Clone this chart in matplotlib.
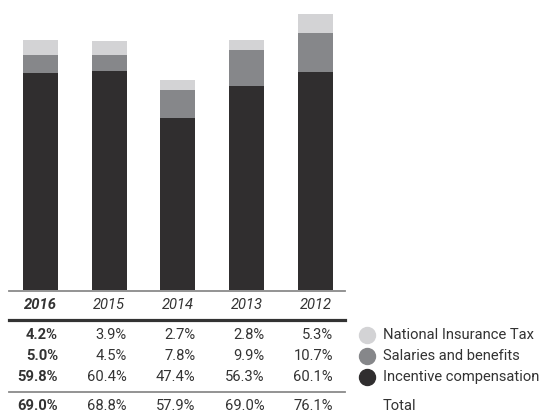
import matplotlib
matplotlib.use("Agg")
import matplotlib.pyplot as plt
from matplotlib.lines import Line2D
from matplotlib.transforms import blended_transform_factory

years = ["2016", "2015", "2014", "2013", "2012"]
national_insurance = [4.2, 3.9, 2.7, 2.8, 5.3]
salaries = [5.0, 4.5, 7.8, 9.9, 10.7]
incentive = [59.8, 60.4, 47.4, 56.3, 60.1]
totals = [69.0, 68.8, 57.9, 69.0, 76.1]
legend_labels = ["National Insurance Tax", "Salaries and benefits",
                 "Incentive compensation", "Total"]

c_dark = "#302e2f"
c_mid = "#86878a"
c_light = "#d3d3d5"
c_text = "#333333"

W, H = 546, 415
fig = plt.figure(figsize=(W / 100, H / 100), dpi=100)
plt.rcParams["font.family"] = ["Roboto", "DejaVu Sans"]


def fy(py):
    # pixel from top -> figure fraction
    return 1 - py / H


def fx(px):
    return px / W


ax = fig.add_axes([fx(9), fy(290), fx(345) - fx(9), fy(0) - fy(290)])
x = list(range(len(years)))
bw = 0.51
ax.bar(x, incentive, bw, color=c_dark)
ax.bar(x, salaries, bw, bottom=incentive, color=c_mid)
bottom3 = [a + b for a, b in zip(incentive, salaries)]
ax.bar(x, national_insurance, bw, bottom=bottom3, color=c_light)
ax.set_xlim(-0.458, 4.43)
ax.set_ylim(0, 80)
ax.axis("off")

# horizontal rules
fig.add_artist(Line2D([fx(9), fx(345)], [fy(290.5)] * 2, color="#8a8a8a", lw=1.3))
fig.add_artist(Line2D([fx(9), fx(345)], [fy(320)] * 2, color="#333333", lw=2.3))
fig.add_artist(Line2D([fx(9), fx(345)], [fy(392)] * 2, color="#8a8a8a", lw=1.3))

tr = blended_transform_factory(ax.transData, fig.transFigure)
fs = 10.6

for i, yr in enumerate(years):
    fig.text(i, fy(305), yr, transform=tr, ha="center", va="center",
             fontsize=fs, style="italic", color=c_text,
             fontweight="bold" if i == 0 else "normal")

rows = [national_insurance, salaries, incentive, totals]
row_y = [335, 356, 377, 406]
for vals, py in zip(rows, row_y):
    for i, v in enumerate(vals):
        fig.text(i + bw / 2, fy(py), f"{v:.1f}%", transform=tr, ha="right",
                 va="center", fontsize=fs, color=c_text,
                 fontweight="bold" if i == 0 else "normal")

# legend
leg_colors = [c_light, c_mid, c_dark, None]
for lab, col, py in zip(legend_labels, leg_colors, row_y):
    if col is not None:
        fig.add_artist(Line2D([fx(367)], [fy(py)], marker="o", markersize=11.5,
                              markerfacecolor=col, markeredgecolor=col,
                              linestyle="none"))
    fig.text(fx(383), fy(py), lab, ha="left", va="center", fontsize=fs,
             color=c_text)

fig.savefig("out.png", dpi=100)
